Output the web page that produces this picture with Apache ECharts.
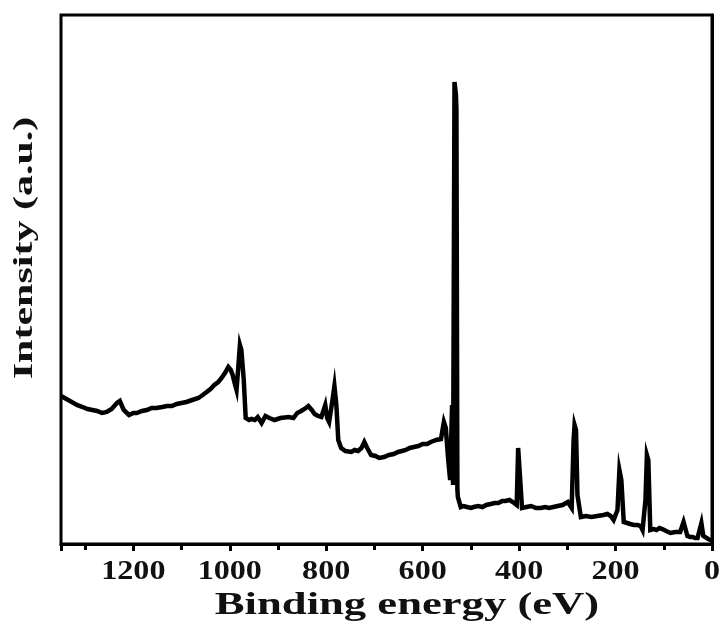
<!DOCTYPE html>
<html>
<head>
<meta charset="utf-8">
<script src="https://cdn.jsdelivr.net/npm/echarts@6/dist/echarts.min.js"></script>
<style>
html,body{margin:0;padding:0;background:#fff;}
#chart{width:723px;height:630px;}
</style>
</head>
<body>
<div id="chart"></div>
<script>
// Binding energy (eV) values, left (high) to right (low)
var energy = [
  1350,1335,1317,1305,1295,1285,1275,1265,1255,1245,
  1234,1228,1220,1209,1200,1193,1182,1172,1162,1152,
  1140,1130,1120,1110,1100,1090,1078,1065,1056,1048,
  1040,1032,1024,1017,1010,1003,998,994,990,986,
  982,979,976,971,967,960,955,948,942,938,
  934,926,918,907,895,878,868,860,852,845,
  837,830,824,817,810,802,798,794,787,783,
  779,775,769,760,748,741,734,727,721,715,
  707,698,690,680,670,660,651,643,635,627,
  618,609,600,591,583,572,562,556,552,547,
  543,539,537,534,531,530,528,527,521,515,
  508,500,494,485,476,468,459,451,443,435,
  428,420,413,405,402,398,394,385,375,365,
  355,346,338,329,320,310,299,291,287,285,
  282,279,272,262,250,238,225,217,210,204,
  196,192,188,183,176,170,162,154,148,144,
  138,135,132,128,121,115,109,103,95,86,
  76,66,59,51,45,40,35,30,22,18,
  14,8,3,0];
// Intensity (a.u.)
var intensity = [
  148,144,139,137,135,134,133,131,132,135,
  141,143,134,129,131,131,133,134,136,136,
  137,138,138,140,141,142,144,146,149,152,
  155,159,162,166,171,177,174,169,161,154,
  179,199,194,164,126,124,125,124,127,125,
  121,128,126,124,126,127,126,131,133,135,
  138,134,130,128,127,139,126,122,144,158,
  139,104,96,93,92,94,93,96,102,96,
  89,88,86,87,89,90,92,93,94,96,
  97,98,100,100,102,104,105,122,116,84,
  64,139,59,462,449,434,54,47,37,38,
  37,36,37,38,37,39,40,41,41,43,
  43,44,42,39,96,94,36,37,38,36,
  36,37,36,37,38,39,42,36,104,119,
  114,49,27,28,27,28,29,30,28,24,
  34,74,64,22,21,20,19,19,18,14,
  44,89,84,14,15,14,16,15,13,11,
  12,12,22,8,7,7,6,6,21,8,
  6,5,4,4];
var xTicks = [0,200,400,600,800,1000,1200];

var chart = echarts.init(document.getElementById('chart'));
var pts = energy.map(function(e,i){return [e,intensity[i]];});
var serif = 'Liberation Serif';
chart.setOption({
  animation:false,
  grid:{left:61,right:11,top:15,bottom:86,show:true,borderColor:'#000',borderWidth:3,backgroundColor:'transparent'},
  xAxis:{
    type:'value',inverse:true,min:0,max:1350,interval:200,
    axisLine:{show:true,onZero:false,lineStyle:{color:'#000',width:3}},
    axisTick:{show:true,inside:false,length:7,lineStyle:{color:'#000',width:3}},
    minorTick:{show:true,splitNumber:2,length:6,lineStyle:{color:'#000',width:3}},
    splitLine:{show:false},
    axisLabel:{show:false}
  },
  yAxis:{
    type:'value',min:0,max:529,
    axisLine:{show:true,lineStyle:{color:'#000',width:3}},
    axisTick:{show:false},axisLabel:{show:false},splitLine:{show:false}
  },
  series:[{
    type:'line',data:pts,showSymbol:false,symbol:'none',
    lineStyle:{color:'#000',width:4.5,join:'miter'},
    clip:true
  }]
});
var g = [];
xTicks.forEach(function(v){
  var px = chart.convertToPixel({xAxisIndex:0}, v);
  g.push({type:'text',x:px,y:572,scaleX:1.19,
    style:{text:String(v),x:0,y:0,align:'center',verticalAlign:'middle',fontFamily:serif,fontWeight:'bold',fontSize:27,fill:'#111'}});
});
g.push({type:'text',x:407,y:606,scaleX:1.44,
  style:{text:'Binding energy (eV)',x:0,y:0,align:'center',verticalAlign:'middle',fontFamily:serif,fontWeight:'bold',fontSize:31,fill:'#111'}});
g.push({type:'text',x:25,y:248,rotation:Math.PI/2,scaleX:1.5,
  style:{text:'Intensity (a.u.)',x:0,y:0,align:'center',verticalAlign:'middle',fontFamily:serif,fontWeight:'bold',fontSize:28,fill:'#111'}});
chart.setOption({graphic:g});
</script>
</body>
</html>
